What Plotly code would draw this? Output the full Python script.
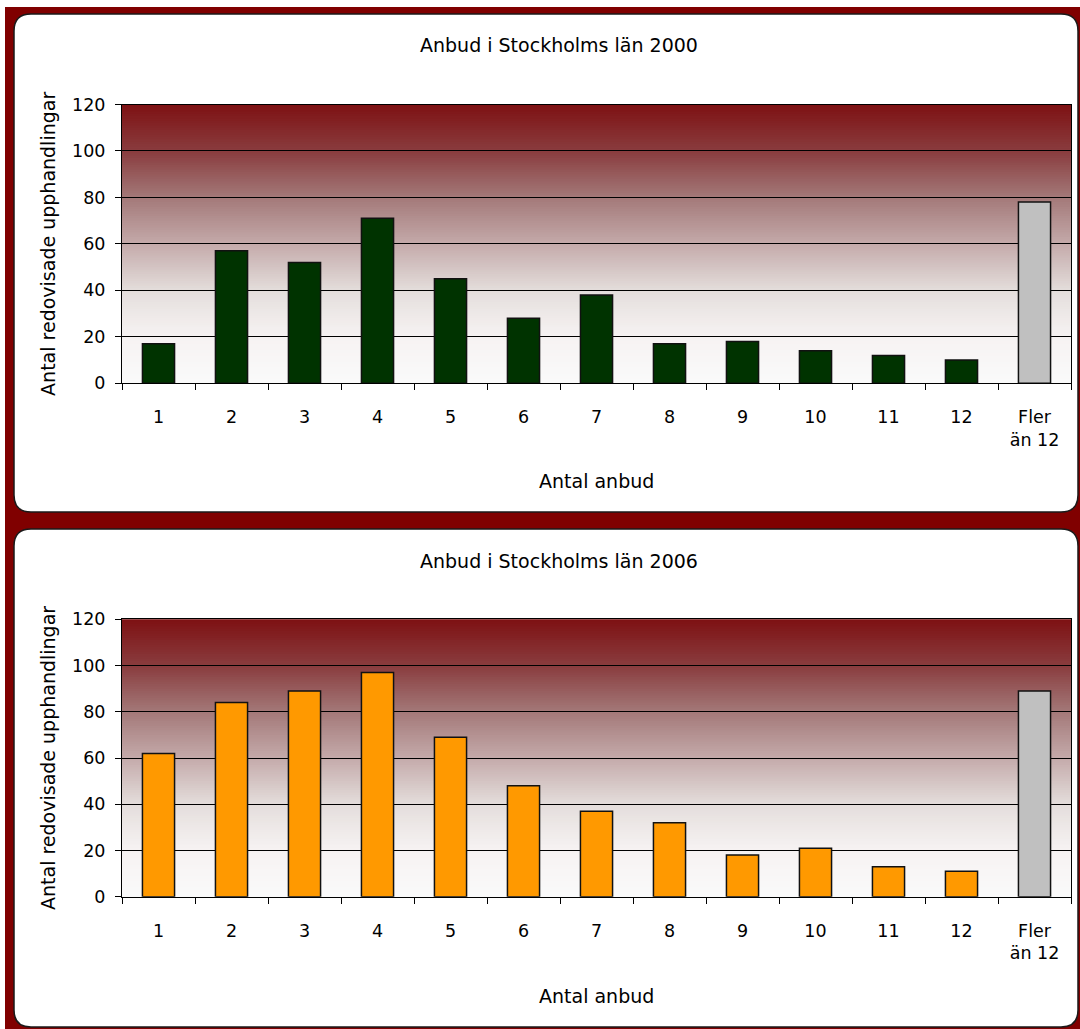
import plotly.graph_objects as go

# ---- data ----
categories = ["1", "2", "3", "4", "5", "6", "7", "8", "9", "10", "11", "12", "Fler<br>än 12"]
values_2000 = [17, 57, 52, 71, 45, 28, 38, 17, 18, 14, 12, 10, 78]
values_2006 = [62, 84, 89, 97, 69, 48, 37, 32, 18, 21, 13, 11, 89]
title_2000 = "Anbud i Stockholms län 2000"
title_2006 = "Anbud i Stockholms län 2006"
y_title = "Antal redovisade upphandlingar"
x_title = "Antal anbud"
y_ticks = [0, 20, 40, 60, 80, 100, 120]

# ---- page geometry (pixels) ----
W, H = 1080, 1029
FONT = "DejaVu Sans"
BACK_RED = "#800000"


def fx(x):
    return x / W


def fy(y):
    return 1 - y / H


def rounded_rect(x0, y0, x1, y1, r):
    rx, ry = r / W, r / H
    X0, X1 = fx(x0), fx(x1)
    Y0, Y1 = fy(y0), fy(y1)  # Y0 is the top edge
    return (
        f"M {X0 + rx},{Y0} L {X1 - rx},{Y0} Q {X1},{Y0} {X1},{Y0 - ry} "
        f"L {X1},{Y1 + ry} Q {X1},{Y1} {X1 - rx},{Y1} "
        f"L {X0 + rx},{Y1} Q {X0},{Y1} {X0},{Y1 + ry} "
        f"L {X0},{Y0 - ry} Q {X0},{Y0} {X0 + rx},{Y0} Z"
    )


panels = [
    dict(box=(14, 14, 1078, 512), plot=(122, 104.5, 1071, 383.3),
         title=title_2000, values=values_2000, color="#003300", title_y=45, xt_y=481),
    dict(box=(14, 529, 1078, 1027), plot=(122, 619.3, 1071, 896.7),
         title=title_2006, values=values_2006, color="#ff9900", title_y=561, xt_y=996),
]

fig = go.Figure()
shapes = []
annotations = []

# dark red page background
shapes.append(dict(type="rect", xref="paper", yref="paper",
                   x0=fx(5), x1=fx(1085), y0=fy(7), y1=fy(1035),
                   fillcolor=BACK_RED, line=dict(width=0), layer="below"))

# plot-area gradient: dark red at the top fading to near white
grad_stops = [
    (0.00, (126, 18, 20)),
    (0.17, (138, 62, 64)),
    (0.33, (163, 120, 120)),
    (0.50, (196, 170, 170)),
    (0.67, (228, 222, 220)),
    (0.83, (246, 242, 242)),
    (1.00, (250, 250, 250)),
]


def grad_color(t):
    for (t0, c0), (t1, c1) in zip(grad_stops[:-1], grad_stops[1:]):
        if t0 <= t <= t1:
            f = (t - t0) / (t1 - t0)
            return "rgb(%d,%d,%d)" % tuple(round(a + (b - a) * f) for a, b in zip(c0, c1))
    return "rgb(%d,%d,%d)" % grad_stops[-1][1]


N_BANDS = 120
TICK_FONT = dict(family=FONT, size=17.5, color="black")
TITLE_FONT = dict(family=FONT, size=19, color="black")

for i, p in enumerate(panels, start=1):
    sfx = "" if i == 1 else str(i)
    bx0, by0, bx1, by1 = p["box"]
    px0, py0, px1, py1 = p["plot"]

    # white rounded panel
    shapes.append(dict(type="path", xref="paper", yref="paper",
                       path=rounded_rect(bx0, by0, bx1, by1, 17),
                       fillcolor="white", line=dict(color="#1a1a1a", width=1.5),
                       layer="below"))

    # gradient: each band reaches down to the axis, later bands cover earlier
    # ones, so no seams appear between neighbouring bands
    for k in range(N_BANDS):
        t = k / (N_BANDS - 1)
        shapes.append(dict(type="rect", xref=f"x{sfx} domain", yref=f"y{sfx} domain",
                           x0=0, x1=1, y0=0, y1=1 - k / N_BANDS,
                           fillcolor=grad_color(t), line=dict(width=0), layer="below"))

    colors = [p["color"]] * (len(categories) - 1) + ["#c0c0c0"]
    fig.add_trace(go.Bar(
        x=categories, y=p["values"], xaxis=f"x{sfx}", yaxis=f"y{sfx}",
        marker=dict(color=colors, line=dict(color="#111111", width=1.5)),
        width=0.44, showlegend=False, hoverinfo="x+y",
    ))

    fig.update_layout(**{
        f"xaxis{sfx}": dict(
            domain=[fx(px0), fx(px1)], anchor=f"y{sfx}", automargin=False,
            type="category", tickson="boundaries", ticks="outside", ticklen=6,
            tickcolor="black", tickwidth=1, showline=True, linecolor="black",
            linewidth=1, mirror=True, showgrid=False, tickfont=TICK_FONT,
            ticklabelstandoff=18, fixedrange=True,
        ),
        f"yaxis{sfx}": dict(
            domain=[fy(py1), fy(py0)], anchor=f"x{sfx}", automargin=False,
            range=[0, 120], tickvals=y_ticks, ticks="outside", ticklen=6,
            tickcolor="black", tickwidth=1, showline=True, linecolor="black",
            linewidth=1, mirror=True, showgrid=True, gridcolor="black",
            gridwidth=1, zeroline=False, tickfont=TICK_FONT,
            ticklabelstandoff=6, fixedrange=True,
        ),
    })

    annotations.append(dict(text=p["title"], xref="paper", yref="paper",
                            x=fx(559), y=fy(p["title_y"]), showarrow=False,
                            xanchor="center", yanchor="middle", font=TITLE_FONT))
    annotations.append(dict(text=x_title, xref="paper", yref="paper",
                            x=fx((px0 + px1) / 2), y=fy(p["xt_y"]), showarrow=False,
                            xanchor="center", yanchor="middle", font=TITLE_FONT))
    annotations.append(dict(text=y_title, xref="paper", yref="paper",
                            x=fx(48), y=fy((py0 + py1) / 2), showarrow=False,
                            textangle=-90, xanchor="center", yanchor="middle",
                            font=TITLE_FONT))

fig.update_layout(
    width=W, height=H,
    margin=dict(l=0, r=0, t=0, b=0, autoexpand=False),
    paper_bgcolor="white",
    plot_bgcolor="rgba(0,0,0,0)",
    bargap=0.56,
    shapes=shapes,
    annotations=annotations,
    font=dict(family=FONT, size=17, color="black"),
)

fig.write_html("out.html", config={"displayModeBar": False})
